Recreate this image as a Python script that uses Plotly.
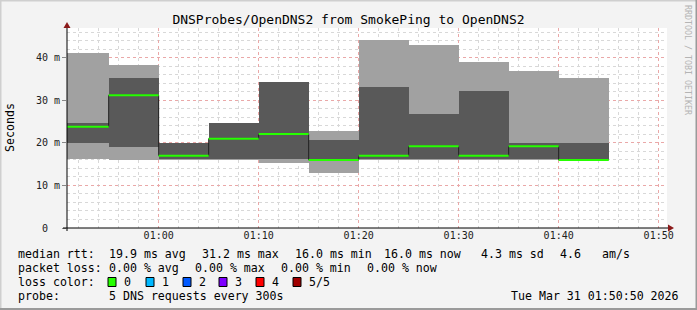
import plotly.graph_objects as go
import pandas as pd

# ---- data ----
sample_times = ["2026-03-31 00:55", "2026-03-31 01:00", "2026-03-31 01:05", "2026-03-31 01:10",
                "2026-03-31 01:15", "2026-03-31 01:20", "2026-03-31 01:25", "2026-03-31 01:30",
                "2026-03-31 01:35", "2026-03-31 01:40", "2026-03-31 01:45"]
ping_min = [16.1, 16.0, 16.0, 16.0, 15.2, 13.0, 16.0, 16.0, 16.0, 16.0, 16.0]
ping_p2 = [20.0, 19.1, 16.1, 16.1, 16.1, 16.1, 16.1, 16.1, 16.1, 16.1, 16.1]
ping_median = [23.8, 31.2, 17.0, 21.0, 22.1, 16.0, 17.0, 19.2, 17.0, 19.2, 16.0]
ping_p4 = [24.7, 35.3, 20.0, 24.7, 34.4, 20.7, 33.2, 26.8, 32.2, 20.0, 20.0]
ping_max = [41.2, 38.4, 20.0, 24.7, 34.4, 22.8, 44.2, 43.1, 39.1, 36.9, 35.3]
step_minutes = 5

x_start = "2026-03-31 00:50:50"
x_end = "2026-03-31 01:50:50"
y_max = 47.0
y_ticks = [0, 10, 20, 30, 40]
y_ticktext = ["0\u00a0\u00a0", "10 m", "20 m", "30 m", "40 m"]

title = "DNSProbes/OpenDNS2 from SmokePing to OpenDNS2"
legend_row1 = [("median rtt:", 16), ("19.9 ms avg", 107), ("31.2 ms max", 200),
               ("16.0 ms min", 293), ("16.0 ms now", 382), ("4.3 ms sd", 479),
               ("4.6", 558), ("am/s", 600)]
legend_row2 = [("packet loss:", 16), ("0.00 % avg", 107), ("0.00 % max", 193),
               ("0.00 % min", 279), ("0.00 % now", 365)]
loss_labels = ["0", "1", "2", "3", "4", "5/5"]
loss_colors = ["#26ff00", "#00b8ff", "#0059ff", "#7e00ff", "#ff0000", "#a00000"]
loss_box_x = [108, 146, 183, 219, 256, 293]
probe_text = "5 DNS requests every 300s"
date_text = "Tue Mar 31 01:50:50 2026"

# ---- geometry helpers (pixel -> paper) ----
L, R, T, B = 67, 667, 28, 228
W, H = 697, 310
def px(x):
    return (x - L) / (R - L)
def py(y):
    return (B - y) / (B - T)

FONT = "DejaVu Sans Mono"
t_end = pd.to_datetime(sample_times)
t_begin = t_end - pd.Timedelta(minutes=step_minutes)
t_mid = t_end - pd.Timedelta(minutes=step_minutes / 2)
width_ms = step_minutes * 60 * 1000

fig = go.Figure()
# outer smoke (min..max)
fig.add_trace(go.Bar(x=t_mid, base=ping_min,
                     y=[a - b for a, b in zip(ping_max, ping_min)],
                     width=[width_ms] * len(t_mid), marker=dict(color="#a1a1a1", line=dict(width=0)),
                     hoverinfo="skip", showlegend=False))
# inner smoke (p2..p4)
fig.add_trace(go.Bar(x=t_mid, base=ping_p2,
                     y=[a - b for a, b in zip(ping_p4, ping_p2)],
                     width=[width_ms] * len(t_mid), marker=dict(color="#595959", line=dict(width=0)),
                     hoverinfo="skip", showlegend=False))
# median thin step line
xs = list(t_begin) + [t_end[-1]]
ys = list(ping_median) + [ping_median[-1]]
fig.add_trace(go.Scatter(x=xs, y=ys, mode="lines", line=dict(color="#202020", width=1, shape="hv"),
                         hoverinfo="skip", showlegend=False))
# green loss-colored median segments
gx, gy = [], []
for b, e, m in zip(t_begin, t_end, ping_median):
    gx += [b, e, None]
    gy += [m, m, None]
fig.add_trace(go.Scatter(x=gx, y=gy, mode="lines", line=dict(color=loss_colors[0], width=2),
                         hoverinfo="skip", showlegend=False))

shapes = []
# outer border
shapes.append(dict(type="line", xref="paper", yref="paper", x0=px(0), x1=px(W), y0=py(0.5), y1=py(0.5),
                   line=dict(color="#cfcfcf", width=2), layer="above"))
shapes.append(dict(type="line", xref="paper", yref="paper", x0=px(0.5), x1=px(0.5), y0=py(0), y1=py(H),
                   line=dict(color="#cfcfcf", width=2), layer="above"))
shapes.append(dict(type="line", xref="paper", yref="paper", x0=px(0), x1=px(W), y0=py(H - 1), y1=py(H - 1),
                   line=dict(color="#9a9a9a", width=2), layer="above"))
shapes.append(dict(type="line", xref="paper", yref="paper", x0=px(W - 0.5), x1=px(W - 0.5), y0=py(0), y1=py(H),
                   line=dict(color="#9a9a9a", width=2), layer="above"))
# axes lines with arrows
shapes.append(dict(type="line", xref="paper", yref="paper", x0=px(L - 4), x1=px(R + 4), y0=0, y1=0,
                   line=dict(color="black", width=1), layer="above"))
shapes.append(dict(type="line", xref="paper", yref="paper", x0=0, x1=0, y0=py(B + 3), y1=py(T - 3),
                   line=dict(color="black", width=1), layer="above"))
shapes.append(dict(type="path", xref="paper", yref="paper",
                   path=f"M {px(R + 1)} {py(B - 3.5)} L {px(R + 7)} {py(B)} L {px(R + 1)} {py(B + 3.5)} Z",
                   fillcolor="#8b1a1a", line=dict(width=0), layer="above"))
shapes.append(dict(type="path", xref="paper", yref="paper",
                   path=f"M {px(L - 3.5)} {py(T - 0)} L {px(L)} {py(T - 6)} L {px(L + 3.5)} {py(T - 0)} Z",
                   fillcolor="#8b1a1a", line=dict(width=0), layer="above"))
# loss color boxes
for bx, c in zip(loss_box_x, loss_colors):
    shapes.append(dict(type="rect", xref="paper", yref="paper", x0=px(bx), x1=px(bx + 8),
                       y0=py(286.5), y1=py(277.5), fillcolor=c, line=dict(color="black", width=1)))

ann = []
def text(s, x, y, size=11.6, anchor="left", color="black", angle=0):
    ann.append(dict(text=s, x=px(x), y=py(y), xref="paper", yref="paper", showarrow=False,
                    xanchor=anchor, yanchor="middle", textangle=angle,
                    font=dict(family=FONT, size=size, color=color)))

for s, x in legend_row1:
    text(s, x, 254)
for s, x in legend_row2:
    text(s, x, 268)
text("loss color:", 16, 282)
for lab, bx in zip(loss_labels, loss_box_x):
    text(lab, bx + 14, 282)
text("probe:", 16, 296)
text(probe_text, 107, 296)
text(date_text, 681, 296, anchor="right")
text("Seconds", 10, 128, size=11.6, anchor="center", angle=-90)
text("RRDTOOL / TOBI OETIKER", 688, 60, size=8.3, anchor="center", color="#b4b4b4", angle=90)

fig.update_layout(
    width=W, height=H, autosize=False,
    margin=dict(l=L, r=W - R, t=T, b=H - B, pad=0),
    paper_bgcolor="#f3f3f3", plot_bgcolor="white",
    barmode="overlay", bargap=0,
    title=dict(text=title, x=0.5, xanchor="center", y=1 - 19 / H, yanchor="middle",
               font=dict(family=FONT, size=13, color="black")),
    shapes=shapes, annotations=ann,
    font=dict(family=FONT),
)
fig.update_xaxes(range=[x_start, x_end], type="date", tickformat="%H:%M",
                 dtick=10 * 60 * 1000, tick0="2026-03-31 01:00",
                 showgrid=True, gridcolor="#eaa8a8", griddash="dot", gridwidth=1,
                 minor=dict(dtick=2 * 60 * 1000, showgrid=True, gridcolor="#d8d8d8", griddash="dot",
                            gridwidth=1),
                 ticks="", showline=False, zeroline=False, automargin=False,
                 tickfont=dict(family=FONT, size=10, color="#202020"))
fig.update_yaxes(range=[0, y_max], tickvals=y_ticks, ticktext=y_ticktext,
                 showgrid=True, gridcolor="#eaa8a8", griddash="dot", gridwidth=1,
                 minor=dict(dtick=2, showgrid=True, gridcolor="#d8d8d8", griddash="dot", gridwidth=1),
                 ticks="outside", ticklen=4, tickcolor="#888888", showline=False, zeroline=False,
                 automargin=False, tickfont=dict(family=FONT, size=10, color="#202020"))

fig.write_html("out.html")
